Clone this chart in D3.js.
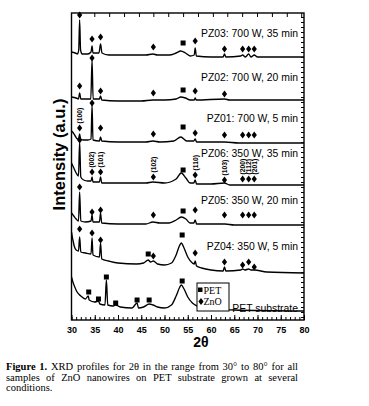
<!DOCTYPE html>
<html><head><meta charset="utf-8">
<script src="https://cdn.jsdelivr.net/npm/d3@7"></script>
<style>
body{margin:0;background:#fff;width:369px;height:406px;overflow:hidden;position:relative;}
svg{position:absolute;left:0;top:0;}
.cap{position:absolute;left:6px;width:292px;font-family:"Liberation Serif","Times New Roman",serif;font-size:10.5px;line-height:10.5px;color:#000;}
.just{text-align:justify;text-align-last:justify;}
</style></head><body>
<svg id="chart" width="369" height="406"></svg>
<div class="cap just" style="top:362px"><b>Figure 1.</b> XRD profiles for 2θ in the range from 30° to 80° for all</div>
<div class="cap just" style="top:372.5px">samples of ZnO nanowires on PET substrate grown at several</div>
<div class="cap" style="top:383px">conditions.</div>
<script>
// ---------------- DATA ----------------
const xTickValues = [30,35,40,45,50,55,60,65,70,75,80];
const topTickValues = [31.7,34.9,38.1,41.3,44.5,47.6,50.8,54.0,57.2,60.4,63.5,66.7,69.9,73.1,76.3,79.4];
const seriesNames = ["PZ03: 700 W, 35 min","PZ02: 700 W, 20 min","PZ01: 700 W, 5 min","PZ06: 350 W, 35 min","PZ05: 350 W, 20 min","PZ04: 350 W, 5 min","PET substrate"];
const seriesOffsets = [263,220,177,135,95,47,9];

const pz03 = [[30,5],[30.8,4],[31.3,3],[31.55,7],[31.75,37],[31.95,7],[32.3,3],[33.5,3],[34.2,5],[34.42,11],[34.62,4],[35.9,4],[36.25,13],[36.55,4],[38,2],[42,2],[46,2],[47.5,3],[48.5,2],[51,2],[52.5,4],[53.5,6],[54.5,4],[55.5,1],[56.4,2],[56.6,9],[56.85,1],[60,0],[62.6,0],[62.9,3],[63.2,0],[66.4,1],[66.8,2],[67.4,0],[68.1,3],[68.6,0],[69.3,2],[70,0],[80,0]];
const pz02 = [[30,3],[31,2],[31.5,1],[31.75,7],[32.0,1],[33,1],[34.15,1],[34.42,40],[34.65,1],[36.0,1],[36.25,4],[36.5,0],[40,-1],[45,-1],[47.5,0],[50,0],[52.5,1],[53.5,3],[54.5,2],[55.5,0],[56.4,0],[56.6,2],[56.8,0],[62.9,1],[64,0],[80,0]];
const pz01 = [[30,12],[30.4,10],[30.8,7],[31.3,4],[31.55,5],[31.75,9],[31.95,4],[32.5,3],[33.5,3],[34.2,4],[34.42,38],[34.62,3],[36.0,2],[36.25,6],[36.5,2],[40,1],[46,1],[47.5,2],[49,1],[52,2],[53.5,6],[54.8,2],[56.3,2],[56.6,4],[56.9,1],[60,1],[62.9,1],[66,0],[80,0]];
const pz06 = [[30,22],[30.5,17],[31.0,12],[31.5,9],[31.75,43],[32.0,8],[32.6,5],[33.5,4],[34.2,4],[34.42,8],[34.62,3],[36.0,3],[36.25,8],[36.5,2],[40,2],[46,2],[47.5,3],[50,2],[52.5,6],[53.6,12],[54.6,7],[55.5,2],[56.3,2],[56.6,5],[56.9,1],[60,1],[62.9,2],[64,0],[80,0]];
const pz05 = [[30,12],[30.5,9],[31.0,6],[31.5,4],[31.75,33],[32.0,4],[33,3],[34.2,4],[34.42,10],[34.62,3],[36.0,3],[36.25,12],[36.5,2],[40,1],[46,1],[47.5,3],[49,2],[51,2],[52.5,5],[53.6,8],[54.6,6],[55.5,2],[56.3,2],[56.6,5],[56.9,1],[60,1],[63,1],[65,0],[80,0]];
const pz04 = [[30,41],[30.3,33],[30.65,26],[31.0,23],[31.5,22],[31.75,36],[32.0,21],[33,20],[34.2,19],[34.42,35],[34.62,18],[36.0,16],[36.25,30],[36.5,14],[38,12],[40,10],[44,9],[45.5,10],[46.5,13],[47.0,11],[47.6,12],[48.5,9],[50,8],[51.5,10],[52.5,18],[53.2,27],[53.6,30],[54.2,25],[55,16],[56,10],[56.4,9],[56.6,12],[56.9,7],[58,5],[60,3],[62.6,2],[62.9,6],[63.2,2],[66.4,3],[66.8,4],[67.3,3],[68.1,4],[68.6,3],[69.3,3],[72,1],[80,0]];
const pet = [[30,34],[30.3,29],[30.7,24],[31.2,19],[32,15],[33,12],[33.6,15],[33.8,11],[35,9],[35.8,10],[36.1,7],[37.2,6],[37.5,31],[37.8,6],[39,5],[39.5,6],[40.5,4],[43,3],[44.1,8],[44.4,3],[45.5,4],[46.7,7],[47.5,6],[48.5,4],[50,3],[51.5,6],[52.5,15],[53.3,24],[53.6,26],[54.2,22],[55,14],[56,8],[57,5],[58,3],[60,2],[65,1],[80,0]];

// ZnO (diamond) and PET (square) peak markers: [2θ, height above baseline]
const dPz03 = [[31.75,42],[34.42,18],[36.25,20],[47.6,10],[56.6,16],[62.9,8],[66.8,8],[68.1,8],[69.3,8]];
const sPz03 = [[54,14]];
const dPz02 = [[31.75,14],[34.42,42],[36.25,9],[47.6,7],[56.6,9],[62.9,6]];
const sPz02 = [[54,10]];
const dPz01 = [[31.75,15],[34.42,40],[36.25,15],[47.6,9],[56.6,10],[62.9,8],[66.8,8],[68.1,8],[69.3,8]];
const sPz01 = [[54,16]];
const dPz06 = [[31.75,45],[34.42,13],[36.25,13],[47.6,8],[56.6,10],[62.9,5],[66.8,6],[68.1,6],[69.3,6]];
const sPz06 = [[54,15]];
const dPz05 = [[31.75,38],[34.42,13],[36.25,15],[47.6,10],[56.6,15],[62.9,10],[66.8,10],[68.1,10],[69.3,10]];
const sPz05 = [[54,14]];
const dPz04 = [[31.75,44],[34.42,40],[36.25,33],[47.6,17],[56.6,20],[62.9,11],[66.8,8],[68.1,11],[69.3,6]];
const sPz04 = [[46.5,19],[53.8,38]];
const dPet = [];
const sPet = [[33.7,19],[35.8,12],[37.5,34],[39.5,8],[44.1,11],[46.7,11],[53.8,30]];

// Miller indices: [series index, 2θ, label]
const millerLabels = [[2,31.75,"(100)"],[3,34.42,"(002)"],[3,36.25,"(101)"],[3,47.6,"(102)"],[3,56.6,"(110)"],[3,62.9,"(103)"],[3,66.8,"(200)"],[3,68.1,"(112)"],[3,69.3,"(201)"]];
const legendItems = ["PET","ZnO"];

// ---------------- LAYOUT ----------------
const traces = [pz03,pz02,pz01,pz06,pz05,pz04,pet];
const diamonds = [dPz03,dPz02,dPz01,dPz06,dPz05,dPz04,dPet];
const squares = [sPz03,sPz02,sPz01,sPz06,sPz05,sPz04,sPet];
const labelRise = [20,19,21,28,21,23,-1];

const svg = d3.select("#chart");
const L = 71.5, R = 304, T = 13, B = 320;
const x = d3.scaleLinear().domain([30,80]).range([L,R]);
const y = d3.scaleLinear().domain([0,307]).range([B,T]);

const line = d3.line().x(d=>x(d[0])).y(d=>y(d[1])).curve(d3.curveMonotoneX);

const g = svg.append("g");
traces.forEach((tr,i)=>{
  const off = seriesOffsets[i];
  g.append("path")
    .attr("d", line(tr.map(p=>[p[0], p[1]+off])))
    .attr("fill","none").attr("stroke","#000").attr("stroke-width",1.35)
    .attr("stroke-linejoin","round");
});

const diamondPath = "M0,-3.6L2.6,0L0,3.6L-2.6,0Z";
diamonds.forEach((ds,i)=>{
  const off = seriesOffsets[i];
  g.selectAll(null).data(ds).enter().append("path")
    .attr("d",diamondPath)
    .attr("transform",d=>`translate(${x(d[0])},${y(d[1]+off)})`)
    .attr("fill","#000");
});
squares.forEach((ss,i)=>{
  const off = seriesOffsets[i];
  g.selectAll(null).data(ss).enter().append("rect")
    .attr("x",d=>x(d[0])-2.5).attr("y",d=>y(d[1]+off)-2.5)
    .attr("width",5).attr("height",5).attr("fill","#000");
});

// Miller index labels
millerLabels.forEach(m=>{
  const si = m[0];
  const mk = diamonds[si].find(d=>d[0]===m[1]);
  const yb = y(mk[1]+seriesOffsets[si]) - 4.5;
  g.append("text")
    .attr("transform",`translate(${x(m[1])+2.4},${yb}) rotate(-90)`)
    .attr("font-family","Liberation Sans, Arial, sans-serif")
    .attr("font-size",6.8).attr("font-weight",600)
    .text(m[2]);
});

// series labels
seriesNames.forEach((n,i)=>{
  svg.append("text")
    .attr("x",298).attr("y",y(seriesOffsets[i]+labelRise[i]))
    .attr("text-anchor","end")
    .attr("font-family","Liberation Sans, Arial, sans-serif")
    .attr("font-size",10.4)
    .text(n);
});

// axes
const ax = svg.append("g").attr("font-family","Liberation Sans, Arial, sans-serif");
const minor = d3.range(30,81,1);
ax.append("g").attr("transform",`translate(0,${B})`)
  .call(d3.axisBottom(x).tickValues(minor).tickSize(-3).tickFormat(""))
  .call(s=>s.select(".domain").remove());
ax.append("g").attr("transform",`translate(0,${B})`)
  .call(d3.axisBottom(x).tickValues(xTickValues).tickSize(-5).tickPadding(6.5).tickFormat(d3.format("d")))
  .call(s=>s.select(".domain").remove())
  .call(s=>s.selectAll("text").attr("font-size",9).attr("font-weight","bold").attr("fill","#000").attr("font-family","Liberation Sans, Arial, sans-serif"));
ax.append("g").attr("transform",`translate(0,${T})`)
  .call(d3.axisTop(x).tickValues(topTickValues).tickSize(-4).tickFormat(""))
  .call(s=>s.select(".domain").remove());
ax.append("g").attr("transform",`translate(${R},0)`)
  .call(d3.axisRight(y).tickValues(d3.range(3,307,5)).tickSize(-3).tickFormat(""))
  .call(s=>s.select(".domain").remove());
ax.selectAll("line").attr("stroke","#000").attr("stroke-width",1);

svg.append("rect").attr("x",L).attr("y",T).attr("width",R-L).attr("height",B-T)
  .attr("fill","none").attr("stroke","#000").attr("stroke-width",1.4);

// axis titles
svg.append("text")
  .attr("transform",`translate(65,154.5) rotate(-90)`)
  .attr("text-anchor","middle")
  .attr("font-family","Liberation Sans, Arial, sans-serif")
  .attr("font-weight","bold").attr("font-size",16.5)
  .text("Intensity (a.u.)");
svg.append("text")
  .attr("x",201).attr("y",347).attr("text-anchor","middle")
  .attr("font-family","Liberation Sans, Arial, sans-serif")
  .attr("font-weight","bold").attr("font-size",14)
  .text("2θ");

// legend
const lg = svg.append("g");
lg.append("rect").attr("x",197).attr("y",283).attr("width",32).attr("height",28)
  .attr("fill","#fff").attr("stroke","#000").attr("stroke-width",1);
lg.append("rect").attr("x",198).attr("y",287.5).attr("width",4.5).attr("height",4.5).attr("fill","#000");
lg.append("path").attr("d",diamondPath).attr("transform","translate(201,301.5)").attr("fill","#000");
lg.selectAll(null).data(legendItems).enter().append("text")
  .attr("x",203.5).attr("y",(d,i)=>294+i*11)
  .attr("font-family","Liberation Serif, Times New Roman, serif")
  .attr("font-size",10)
  .text(d=>d);
</script>
</body></html>
